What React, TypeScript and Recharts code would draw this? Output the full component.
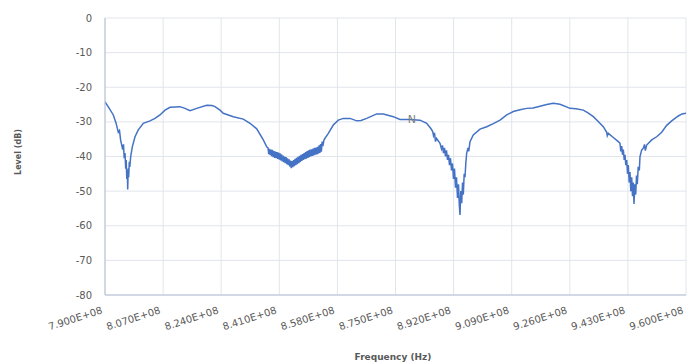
import { LineChart, Line, XAxis, YAxis, CartesianGrid, ReferenceDot } from 'recharts';

// frequency in MHz, level in dB
const freqMHz = [
  790.0, 790.88, 792.43, 793.22, 793.89, 794.24, 794.56, 795.18, 795.41, 795.62,
  795.85, 796.06, 796.2, 796.38, 796.53, 796.64, 796.79, 796.93, 797.11, 797.26,
  797.52, 797.99, 798.78, 799.74, 801.21, 803.17, 804.63, 806.09, 807.56, 809.02,
  811.95, 813.4, 814.87, 816.83, 819.76, 821.3, 822.19, 823.65, 824.62, 827.54,
  830.47, 832.43, 834.39, 836.32, 837.32,
  837.69, 837.91, 838.13, 838.35, 838.57, 838.79, 839.01, 839.23, 839.45, 839.67,
  839.89, 840.11, 840.33, 840.55, 840.77, 840.99, 841.21, 841.43, 841.65, 841.87,
  842.09, 842.31, 842.53, 842.75, 842.97, 843.19, 843.41, 843.63, 843.85, 844.07,
  844.29, 844.51, 844.73, 844.95, 845.17, 845.39, 845.61, 845.83, 846.05, 846.27,
  846.49, 846.71, 846.93, 847.15, 847.37, 847.59, 847.81, 848.03, 848.25, 848.47,
  848.69, 848.91, 849.13, 849.35, 849.57, 849.79, 850.01, 850.23, 850.45, 850.67,
  850.89, 851.11, 851.33, 851.55, 851.77, 851.99, 852.21, 852.43, 852.65, 852.87,
  853.09, 853.31, 853.53, 853.75, 854.08,
  855.34, 856.8, 858.26, 859.73, 861.69, 863.65, 864.91, 866.57, 869.5, 871.43,
  874.36, 876.32, 879.24, 882.17, 884.13, 885.39, 885.89, 886.12, 886.41, 886.7,
  887.0, 888.02,
  888.46, 888.75, 889.04, 889.34, 889.63, 889.92, 890.22, 890.51, 890.8, 891.09,
  891.39, 891.68, 891.97, 892.26, 892.56, 892.85, 893.14, 893.44, 893.67, 893.87,
  894.11, 894.37, 894.61, 894.84, 895.1, 895.34, 895.57, 895.83, 896.21, 896.42,
  896.8, 897.76, 899.73, 901.69, 903.62, 905.58, 907.54, 909.47, 911.43, 913.39,
  915.23, 917.28, 919.24, 921.17, 923.13, 926.06, 927.81, 929.95, 931.33, 932.88,
  934.25, 935.8, 936.8, 936.97, 937.26, 938.73, 940.19,
  940.69, 940.92, 941.19, 941.42, 941.66, 941.92, 942.15, 942.39, 942.65, 942.89,
  943.12, 943.38, 943.61, 943.85, 944.11, 944.35, 944.58, 944.79, 945.02, 945.29,
  945.52, 945.75, 946.02, 946.34, 946.54, 947.04, 947.51, 947.86, 948.09, 948.5,
  949.96, 951.43, 952.89, 954.35, 955.81, 957.75, 958.83, 960.0,
];

const levelDb = [
  -24.2, -25.5, -28.0, -30.3, -33.0, -32.5, -35.2, -38.0, -36.5, -40.5,
  -39.0, -43.5, -41.0, -46.5, -44.0, -49.5, -43.5, -46.0, -41.5, -43.0,
  -40.0, -37.2, -34.3, -32.3, -30.4, -29.7, -29.0, -28.0, -26.6, -25.8,
  -25.6, -26.1, -26.8, -26.1, -25.2, -25.3, -25.6, -26.6, -27.5, -28.5,
  -29.2, -30.4, -32.0, -35.2, -37.2,
  -37.5, -39.3, -37.8, -39.6, -38.0, -39.9, -38.1, -40.2, -38.4, -40.4,
  -38.6, -40.5, -38.7, -40.7, -38.9, -40.9, -39.1, -41.1, -39.4, -41.4,
  -39.7, -41.6, -40.0, -41.9, -40.2, -42.2, -40.5, -42.5, -40.8, -42.9,
  -41.2, -43.4, -41.3, -43.1, -41.0, -42.8, -40.7, -42.5, -40.4, -42.2,
  -40.1, -41.9, -39.8, -41.6, -39.5, -41.3, -39.3, -41.0, -39.0, -40.8,
  -38.7, -40.6, -38.4, -40.4, -38.2, -40.2, -38.0, -40.0, -37.9, -39.8,
  -37.7, -39.7, -37.5, -39.5, -37.4, -39.4, -37.2, -39.2, -36.8, -39.0,
  -36.4, -38.6, -35.7, -37.0, -35.2,
  -33.3, -30.9, -29.5, -29.0, -29.0, -29.7, -29.6, -29.0, -27.7, -27.7,
  -28.5, -29.3, -29.3, -29.5, -30.4, -32.0, -32.8, -34.0, -33.2, -35.7,
  -34.8, -36.2,
  -37.8, -36.8, -39.0, -37.5, -40.0, -38.2, -41.0, -39.5, -42.5, -40.5,
  -44.0, -42.0, -46.5, -43.5, -49.0, -46.0, -52.0, -48.0, -54.0, -56.9,
  -50.0, -53.5, -47.5, -51.0, -45.0, -46.0, -42.0, -39.0, -37.5, -38.5,
  -35.7, -33.8, -32.1, -31.4, -30.5, -29.5, -28.0, -27.0, -26.5, -26.1,
  -26.0, -25.5, -25.0, -24.6, -24.9, -26.1, -26.2, -26.6, -27.4, -28.5,
  -29.8, -31.4, -33.0, -34.0, -33.3, -34.5, -35.7,
  -36.2, -38.5, -37.0, -39.5, -38.0, -41.0, -39.5, -42.5, -41.0, -45.0,
  -42.5, -47.5, -44.5, -50.0, -46.0, -51.5, -47.5, -53.7, -48.0, -51.0,
  -45.5, -48.0, -43.0, -44.0, -40.0, -38.1, -37.6, -36.5, -38.3, -36.7,
  -35.2, -34.3, -33.0, -31.0, -29.7, -28.3, -27.7, -27.5,
];

const xTicksMHz = [790, 807, 824, 841, 858, 875, 892, 909, 926, 943, 960];
const yTicks = [-80, -70, -60, -50, -40, -30, -20, -10, 0];

const data = freqMHz.map((f, i) => ({ freq: f * 1e6, level: levelDb[i] }));
const xTicks = xTicksMHz.map((f) => f * 1e6);

const fmt = (v: number) => (v / 1e8).toFixed(3) + 'E+08';

const XTick = ({ x, y, payload }: any) => (
  <g transform={`translate(${x - 2},${y + 16}) rotate(-18)`}>
    <text x={0} y={0} textAnchor="end" fill="#595959" fontSize={10} fontFamily="DejaVu Sans">
      {fmt(payload.value)}
    </text>
  </g>
);

export default function App() {
  return (
    <div style={{ position: 'absolute', left: 0, top: 0, width: 693, height: 363, background: '#fff' }}>
      <LineChart width={693} height={363} data={data} margin={{ top: 18, right: 7, left: 0, bottom: 0 }}>
        <CartesianGrid stroke="#e1e5ec" />
        <XAxis
          dataKey="freq"
          type="number"
          domain={[7.9e8, 9.6e8]}
          ticks={xTicks}
          height={68}
          tickLine={false}
          tickSize={0}
          tick={<XTick />}
          interval={0}
          stroke="#b4bfd4"
          allowDataOverflow
        />
        <YAxis
          type="number"
          domain={[-80, 0]}
          ticks={yTicks}
          width={105}
          tickLine={false}
          tickSize={0}
          tickMargin={13}
          interval={0}
          stroke="#b4bfd4"
          tick={{ fill: '#595959', fontSize: 10, fontFamily: 'DejaVu Sans' }}
        />
        <Line
          type="linear"
          dataKey="level"
          stroke="#4472C4"
          strokeWidth={1.5}
          dot={false}
          isAnimationActive={false}
        />
        <ReferenceDot
          x={879.8e6}
          y={-29.3}
          r={0}
          label={{ value: 'N', position: 'center', fill: '#7f7f7f', fontSize: 11, fontFamily: 'DejaVu Sans' }}
        />
      </LineChart>
      <svg width={693} height={363} style={{ position: 'absolute', left: 0, top: 0, pointerEvents: 'none' }}>
        <text
          x={0}
          y={0}
          transform="translate(21,152) rotate(-90)"
          textAnchor="middle"
          fontSize={8}
          fontWeight="bold"
          fill="#595959"
          fontFamily="DejaVu Sans"
        >
          Level (dB)
        </text>
        <text x={393} y={360} textAnchor="middle" fontSize={9} fontWeight="bold" fill="#595959" fontFamily="DejaVu Sans">
          Frequency (Hz)
        </text>
      </svg>
    </div>
  );
}
